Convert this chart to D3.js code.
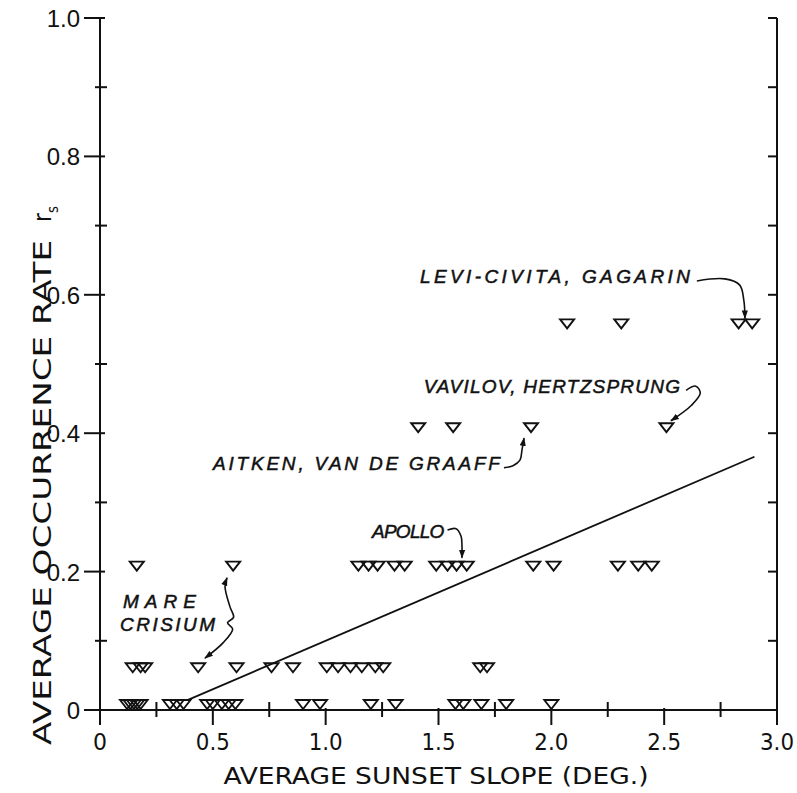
<!DOCTYPE html>
<html>
<head>
<meta charset="utf-8">
<script src="https://cdn.jsdelivr.net/npm/d3@7"></script>
<style>
  body { margin: 0; background: #fff; }
  text { fill: #111; }
</style>
</head>
<body>
<div id="chart"></div>
<script>
const width = 797;
const height = 793;

// average sunset slope (deg) of each site, grouped by occurrence rate r_s
const rowRates = [0, 0.053, 0.2, 0.4, 0.55];
const slopesAtZero = [0.12, 0.135, 0.15, 0.165, 0.18, 0.31, 0.34, 0.37,
  0.475, 0.50, 0.54, 0.57, 0.60, 0.90, 0.975, 1.20, 1.31, 1.575, 1.61, 1.69, 1.80, 2.00];
const slopesAtLow = [0.145, 0.18, 0.20, 0.435, 0.605, 0.76, 0.855,
  1.005, 1.055, 1.11, 1.16, 1.22, 1.255, 1.685, 1.715];
const slopesAtPoint2 = [0.163, 0.59, 1.145, 1.19, 1.23, 1.305, 1.35,
  1.49, 1.54, 1.58, 1.625, 1.92, 2.01, 2.295, 2.385, 2.445];
const slopesAtPoint4 = [1.41, 1.565, 1.91, 2.51];
const slopesAtPoint55 = [2.07, 2.31, 2.83, 2.89];
const slopeRows = [slopesAtZero, slopesAtLow, slopesAtPoint2, slopesAtPoint4, slopesAtPoint55];

// least squares line, end points
const fitX = [0.39, 2.90];
const fitY = [0.0146, 0.366];

const xTicks = [0, 0.5, 1.0, 1.5, 2.0, 2.5, 3.0];
const xTickLabels = ["0", "0.5", "1.0", "1.5", "2.0", "2.5", "3.0"];
const xMinorTicks = [0.25, 0.75, 1.25, 1.75, 2.25, 2.75];
const yTicks = [0, 0.2, 0.4, 0.6, 0.8, 1.0];
const yTickLabels = ["0", "0.2", "0.4", "0.6", "0.8", "1.0"];
const yMinorTicks = [0.1, 0.3, 0.5, 0.7, 0.9];

// crater labels (data units: start x, end x, baseline y)
const labelTexts = ["LEVI-CIVITA, GAGARIN", "VAVILOV, HERTZSPRUNG", "AITKEN, VAN DE GRAAFF", "APOLLO", "MARE", "CRISIUM"];
const labelX0 = [1.418, 1.435, 0.501, 1.205, 0.102, 0.089];
const labelX1 = [2.614, 2.570, 1.772, 1.526, 0.425, 0.510];
const labelY = [0.617, 0.458, 0.347, 0.249, 0.147, 0.114];

// pointer arrows (data units)
const arrowLevi = [[2.645, 0.620], [2.769, 0.623], [2.835, 0.614], [2.853, 0.592], [2.858, 0.566]];
const arrowVavilov = [[2.597, 0.462], [2.64, 0.468], [2.66, 0.458], [2.62, 0.44], [2.53, 0.418]];
const arrowAitken = [[1.790, 0.350], [1.830, 0.353], [1.861, 0.361], [1.870, 0.376], [1.879, 0.393]];
const arrowApollo = [[1.540, 0.260], [1.578, 0.262], [1.600, 0.251], [1.604, 0.238], [1.604, 0.220]];
const arrowMare = [[0.563, 0.191], [0.554, 0.178], [0.576, 0.149], [0.592, 0.134], [0.565, 0.126],
  [0.588, 0.117], [0.545, 0.097], [0.465, 0.075]];

const x = d3.scaleLinear().domain([0, 3]).range([100, 777]);
const y = d3.scaleLinear().domain([0, 1]).range([710, 18]);

const svg = d3.select("#chart").append("svg")
  .attr("width", width)
  .attr("height", height);

const defs = svg.append("defs");
defs.append("marker")
    .attr("id", "head")
    .attr("viewBox", "0 -4 10 8")
    .attr("refX", 9)
    .attr("refY", 0)
    .attr("markerWidth", 9)
    .attr("markerHeight", 7)
    .attr("markerUnits", "userSpaceOnUse")
    .attr("orient", "auto-start-reverse")
  .append("path")
    .attr("d", "M0,-3.5L10,0L0,3.5Z")
    .attr("fill", "#111");

const ink = "#111";
const condensed = "DejaVu Sans Condensed, DejaVu Sans, sans-serif";

// axes lines
const axes = svg.append("g").attr("stroke", ink).attr("stroke-width", 2).attr("fill", "none");
axes.append("line").attr("x1", x(0)).attr("x2", x(0)).attr("y1", y(1)).attr("y2", y(0) + 12);
axes.append("line").attr("x1", x(0)).attr("x2", x(3)).attr("y1", y(0)).attr("y2", y(0));
axes.append("line").attr("x1", x(3)).attr("x2", x(3)).attr("y1", y(1)).attr("y2", y(0) + 14);

// left ticks
axes.selectAll(".ymaj").data(yTicks).enter().append("line")
  .attr("x1", x(0) - 16).attr("x2", x(0) + 5)
  .attr("y1", d => y(d)).attr("y2", d => y(d));
axes.selectAll(".ymin").data(yMinorTicks).enter().append("line")
  .attr("x1", x(0) - 5).attr("x2", x(0) + 7)
  .attr("y1", d => y(d)).attr("y2", d => y(d));
// right ticks
axes.selectAll(".yr").data(yTicks.concat(yMinorTicks)).enter().append("line")
  .attr("x1", x(3) - 9).attr("x2", x(3))
  .attr("y1", d => y(d)).attr("y2", d => y(d));
// bottom ticks
axes.selectAll(".xmaj").data(xTicks).enter().append("line")
  .attr("x1", d => x(d)).attr("x2", d => x(d))
  .attr("y1", y(0) - 2).attr("y2", y(0) + 15);
axes.selectAll(".xmin").data(xMinorTicks).enter().append("line")
  .attr("x1", d => x(d)).attr("x2", d => x(d))
  .attr("y1", y(0) - 8).attr("y2", y(0) + 7);

// tick labels
svg.append("g").selectAll("text").data(yTicks).enter().append("text")
  .attr("x", x(0) - 20)
  .attr("y", d => y(d) + 9)
  .attr("text-anchor", "end")
  .attr("font-family", "Liberation Sans, Arial, sans-serif")
  .attr("font-size", 24)
  .text((d, i) => yTickLabels[i]);

svg.append("g").selectAll("text").data(xTicks).enter().append("text")
  .attr("x", d => x(d))
  .attr("y", 750)
  .attr("text-anchor", "middle")
  .attr("font-family", condensed)
  .attr("font-size", 23)
  .attr("textLength", (d, i) => xTickLabels[i].length > 1 ? 34 : 14)
  .attr("lengthAdjust", "spacingAndGlyphs")
  .text((d, i) => xTickLabels[i]);

// axis titles
svg.append("text")
  .attr("x", 436)
  .attr("y", 784)
  .attr("text-anchor", "middle")
  .attr("font-family", condensed)
  .attr("font-size", 23)
  .attr("textLength", 425)
  .attr("lengthAdjust", "spacingAndGlyphs")
  .text("AVERAGE SUNSET SLOPE (DEG.)");

const yTitle = svg.append("g").attr("transform", "translate(51,745) rotate(-90)");
yTitle.append("text")
  .attr("x", 0).attr("y", 0)
  .attr("font-family", condensed)
  .attr("font-size", 25)
  .attr("textLength", 505)
  .attr("lengthAdjust", "spacingAndGlyphs")
  .text("AVERAGE OCCURRENCE RATE");
yTitle.append("text")
  .attr("x", 523).attr("y", 0)
  .attr("font-family", condensed)
  .attr("font-size", 24)
  .text("r");
yTitle.append("text")
  .attr("x", 532).attr("y", 7)
  .attr("font-family", condensed)
  .attr("font-size", 15)
  .text("s");

// fit line
svg.append("line")
  .attr("x1", x(fitX[0])).attr("y1", y(fitY[0]))
  .attr("x2", x(fitX[1])).attr("y2", y(fitY[1]))
  .attr("stroke", ink)
  .attr("stroke-width", 1.8);

// data triangles (vertex on the value)
const points = slopeRows.flatMap((row, i) => row.map(s => ({ s, r: rowRates[i] })));
svg.append("g")
    .attr("fill", "none")
    .attr("stroke", ink)
    .attr("stroke-width", 1.9)
    .attr("stroke-linejoin", "miter")
  .selectAll("path")
  .data(points)
  .enter().append("path")
    .attr("d", "M-7,-9L7,-9L0,0Z")
    .attr("transform", d => `translate(${x(d.s)},${y(d.r) - 1})`);

// labels
svg.append("g").selectAll("text").data(labelTexts).enter().append("text")
  .attr("x", (d, i) => x(labelX0[i]))
  .attr("y", (d, i) => y(labelY[i]))
  .attr("font-family", "Liberation Sans, Arial, sans-serif")
  .attr("font-style", "italic")
  .attr("font-size", 19)
  .attr("stroke", ink)
  .attr("stroke-width", 0.5)
  .attr("textLength", (d, i) => x(labelX1[i]) - x(labelX0[i]))
  .attr("lengthAdjust", "spacing")
  .text(d => d);

// arrows
const curve = d3.line()
  .x(d => x(d[0]))
  .y(d => y(d[1]))
  .curve(d3.curveCatmullRom.alpha(0.5));

const arrows = svg.append("g")
  .attr("fill", "none")
  .attr("stroke", ink)
  .attr("stroke-width", 1.6);
[arrowLevi, arrowVavilov, arrowAitken, arrowApollo].forEach(a => {
  arrows.append("path").attr("d", curve(a)).attr("marker-end", "url(#head)");
});
arrows.append("path").attr("d", curve(arrowMare))
  .attr("marker-end", "url(#head)")
  .attr("marker-start", "url(#head)");
</script>
</body>
</html>
